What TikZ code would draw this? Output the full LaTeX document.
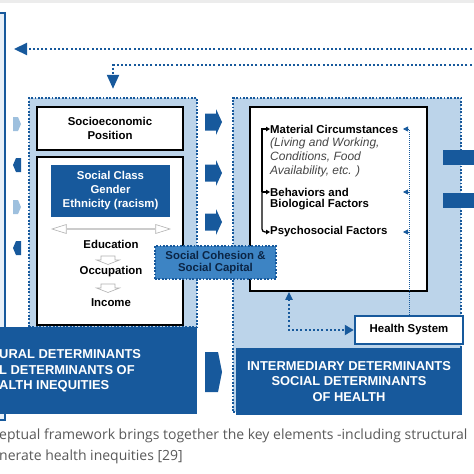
\documentclass[tikz,border=0pt]{standalone}
\usepackage{fontspec}
\setmainfont{Liberation Sans}
\newfontfamily\capfont{Open Sans}
\usetikzlibrary{positioning,shapes.arrows,arrows.meta}
\definecolor{sdhblue}{HTML}{17599C}
\definecolor{sdhlight}{HTML}{BCD4EA}
\definecolor{sdhmid}{HTML}{3D84C4}
\definecolor{sdhpale}{HTML}{9EC0DE}
\definecolor{sdhnavy}{HTML}{0B2545}

\begin{document}
\begin{tikzpicture}[x=1pt, y=-1pt,
    every node/.style={font=\fontsize{11.4}{14}\selectfont\bfseries, inner sep=0pt, align=center},
    dotframe/.style={draw=sdhblue, line width=2.4pt, dash pattern=on 1.8pt off 1.6pt, fill=sdhlight},
    whitebox/.style={draw=black, line width=1.8pt, fill=white},
    bluebar/.style={fill=sdhblue, text=white, font=\fontsize{12.9}{15.5}\selectfont\bfseries},
    openarrow/.style={draw=gray!60, fill=white, line width=0.6pt},
    dotlink/.style={draw=sdhblue, line width=2.2pt, dash pattern=on 2pt off 2.2pt, -{Triangle[length=13pt, width=12pt]}},
    feedline/.style={draw=sdhblue, line width=0.8pt, dash pattern=on 1pt off 1pt},
    bracket/.style={draw=black, line width=1.3pt, -{Triangle[length=4pt, width=4.5pt]}},
    item/.style={anchor=west, align=left}]
    \useasboundingbox (0,0) rectangle (474,474);
    \clip (0,0) rectangle (474,474);
    \fill[gray!15] (0,0) rectangle (474,3);
    \draw[sdhblue, line width=1.6pt, fill=sdhlight!35] (-4,13) rectangle (5,420);

    \node[dotframe, minimum width=168pt, minimum height=229pt] (structbox) at (113,212.5) {};
    \node[dotframe, minimum width=228pt, minimum height=314pt] (interbox) at (347,255) {};

    \node[whitebox, minimum width=146pt, minimum height=43pt] (sepos) at (110,128.5) {Socioeconomic\\Position};
    \node[whitebox, minimum width=146pt, minimum height=168pt] (sepbox) at (110,241) {};
    \node[fill=sdhblue, text=white, minimum width=119pt, minimum height=52pt] (sclass) at (110.5,191) {Social Class\\Gender\\Ethnicity (racism)};
    \node[double arrow, openarrow, double arrow head extend=2pt, double arrow tip angle=35, minimum height=118pt, minimum width=9pt] (ladder) at (111,229) {};
    \node (educ) at (111,244) {Education};
    \node (occup) at (111,272) {Occupation};
    \node (income) at (111,303) {Income};
    \foreach \y in {256,284}
        \draw[openarrow] (101,\y) -- (115,\y) -- (115,\y+4) -- (119.5,\y+4) -- (108,\y+8.5) -- (96.5,\y+4) -- (101,\y+4) -- cycle;

    \node[bluebar, minimum width=202pt, minimum height=87pt] (structbar) at (96,370.5) {};
    \node[bluebar, fill=none, item] (structlbl) at (-1,371) {URAL DETERMINANTS\\L DETERMINANTS OF\\ALTH INEQUITIES};
    \node[bluebar, minimum width=226pt, minimum height=67pt] (interbar) at (349,381.5) {INTERMEDIARY DETERMINANTS\\SOCIAL DETERMINANTS\\OF HEALTH};

    \node[whitebox, minimum width=177pt, minimum height=184pt] (intbox) at (338.5,199) {};
    \node[item] (matcirc) at (270,129) {Material Circumstances};
    \node[item, font=\fontsize{12}{14}\selectfont\itshape, text=gray!55!black] (matdesc) at (270,157) {(Living and Working,\\Conditions, Food\\Availability, etc. )};
    \node[item] (behav) at (270,192) {Behaviors and};
    \node[item] (biol) at (270,205) {Biological Factors};
    \node[item] (psycho) at (270,232) {Psychosocial Factors};
    \draw[bracket] ([xshift=-8pt]behav.west) |- (matcirc.west);
    \draw[bracket, rounded corners=3pt] ([xshift=-8pt]behav.west) |- (psycho.west);
    \draw[bracket] ([xshift=-8pt]behav.west) -- (behav.west);

    \node[draw=sdhblue, line width=2.5pt, fill=white, minimum width=108pt, minimum height=28pt] (hs) at (409,330) {Health System};
    \coordinate (fb1) at (hs.north |- matcirc);
    \coordinate (fb2) at (hs.north |- behav);
    \coordinate (fb3) at (hs.north |- psycho);
    \draw[feedline] (hs.north) -- (fb1);
    \foreach \c in {fb1,fb2,fb3}
        \draw[sdhblue, line width=0.8pt, -{Triangle[length=5pt, width=5pt]}] (\c) -- ++(-6,0);
    \draw[dotlink, line width=2pt, {Triangle[length=8pt, width=7pt]}-{Triangle[length=9pt, width=10pt]}] ([xshift=-49.5pt]intbox.south) |- (hs.west);

    \node[draw=sdhblue, line width=2.4pt, dash pattern=on 1.8pt off 1.6pt, fill=sdhmid, text=sdhnavy, minimum width=121pt, minimum height=33pt, font=\fontsize{11.4}{12.5}\selectfont\bfseries] (cohesion) at (215.5,262.5) {Social Cohesion \&\\Social Capital};

    \foreach \y in {122,173,222}
        \fill[sdhblue] (205,\y-8.5) -- (216,\y-8.5) -- (216,\y-13) -- (222,\y) -- (216,\y+13) -- (216,\y+8.5) -- (205,\y+8.5) -- cycle;
    \fill[sdhblue] (205,352) -- (218,352) -- (222,372) -- (218,392) -- (205,392) -- cycle;
    \foreach \y in {124,207}
        \fill[sdhpale] (13,\y-7) -- (18,\y-7) -- (21,\y) -- (18,\y+7) -- (13,\y+7) -- cycle;
    \foreach \y in {165,248}
        \fill[sdhblue] (21,\y-7) -- (16,\y-7) -- (13,\y) -- (16,\y+7) -- (21,\y+7) -- cycle;
    \fill[sdhblue] (443,150) rectangle (480,165);
    \fill[sdhblue] (443,193) rectangle (480,208);

    \coordinate (backR) at (480,49);
    \coordinate (backL) at (14,49);
    \draw[dotlink] (backR) -- (backL);
    \coordinate (downR) at (480,65);
    \draw[dotlink, -{Triangle[length=14pt, width=12pt]}] (downR) -| ([yshift=8pt]structbox.north);

    \node[item, font=\capfont\fontsize{14}{21}\selectfont, text=gray!70!black] (caption) at (-1,446.5) {eptual framework brings together the key elements -including structural\\nerate health inequities [29]};
\end{tikzpicture}
\end{document}
